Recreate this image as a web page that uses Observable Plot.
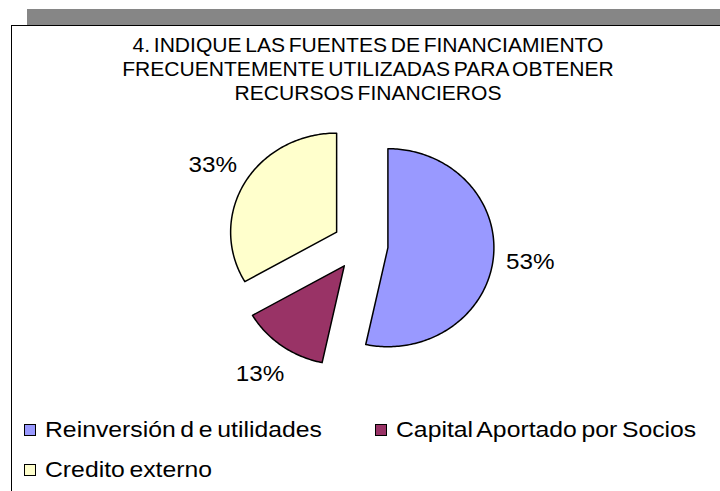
<!DOCTYPE html>
<html>
<head>
<meta charset="utf-8">
<script src="https://cdn.jsdelivr.net/npm/d3@7"></script>
<script src="https://cdn.jsdelivr.net/npm/@observablehq/plot@0.6"></script>
<style>
html,body{margin:0;padding:0;background:#fff;}
body{width:720px;height:491px;overflow:hidden;position:relative;font-family:"Liberation Sans",Arial,sans-serif;color:#000;}
#band{position:absolute;left:27px;top:9px;width:693px;height:16px;background:#868686;}
#frame{position:absolute;left:11px;top:25px;width:720px;height:480px;border-top:1px solid #000;border-left:1px solid #000;background:#fff;}
#chart{position:absolute;left:0;top:0;}
#title{position:absolute;left:0;width:736px;top:33px;text-align:center;font-size:19.5px;line-height:24px;word-spacing:-2px;transform:scaleX(1.08);transform-origin:368px 0;white-space:nowrap;}
.leg{position:absolute;display:flex;align-items:center;height:24px;font-size:22.5px;line-height:24px;word-spacing:-2px;white-space:nowrap;}
.sw{width:10px;height:10px;border:1px solid #000;margin-right:9px;flex:none;}
.lt{display:inline-block;transform:scaleX(1.1);transform-origin:0 50%;}
</style>
</head>
<body>
<div id="band"></div>
<div id="frame"></div>
<div id="chart"></div>
<div id="title"></div>
<div id="legend"></div>
<script>
// ---- data ----
const titleLines = [
  "4. INDIQUE LAS FUENTES DE FINANCIAMIENTO",
  "FRECUENTEMENTE UTILIZADAS PARA OBTENER",
  "RECURSOS FINANCIEROS"
];
const categories = ["Reinversión d e utilidades", "Capital Aportado por Socios", "Credito externo"];
const values = [53.3, 13.3, 33.3];
const colors = ["#9999FF", "#993366", "#FFFFCC"];

// ---- title ----
document.getElementById("title").innerHTML = titleLines.map(t => `<div>${t}</div>`).join("");

// ---- legend ----
const legendPos = [{left: 24, top: 418}, {left: 375, top: 418}, {left: 24, top: 458}];
document.getElementById("legend").innerHTML = categories.map((c, i) =>
  `<div class="leg" style="left:${legendPos[i].left}px;top:${legendPos[i].top}px"><span class="sw" style="background:${colors[i]}"></span><span class="lt">${c}</span></div>`
).join("");

// ---- pie geometry (unit radius, y up, angles clockwise from 12 o'clock) ----
const explode = 0.26;
const labelRadius = 1.61;
const total = d3.sum(values);
const rad = d => d * Math.PI / 180;
let acc = 0;
const slices = values.map((v, i) => {
  const a0 = acc / total * 360; acc += v; const a1 = acc / total * 360;
  return {i, a0, a1, mid: (a0 + a1) / 2, label: Math.round(v / total * 100) + "%"};
});
const polys = slices.map(s => {
  const ox = explode * Math.sin(rad(s.mid)), oy = explode * Math.cos(rad(s.mid));
  const pts = [{x: ox, y: oy}];
  const n = Math.max(2, Math.ceil(s.a1 - s.a0));
  for (let k = 0; k <= n; k++) {
    const a = s.a0 + (s.a1 - s.a0) * k / n;
    pts.push({x: ox + Math.sin(rad(a)), y: oy + Math.cos(rad(a))});
  }
  pts.push({x: ox, y: oy});
  return pts;
});

const W = 720, H = 491, cx = 360, cy = 244.5, rx = 106, ry = 99;
const chart = Plot.plot({
  width: W, height: H,
  margin: 0,
  x: {domain: [-cx / rx, (W - cx) / rx], range: [0, W], axis: null},
  y: {domain: [(cy - H) / ry, cy / ry], range: [H, 0], axis: null},
  style: {fontFamily: "'Liberation Sans', Arial, sans-serif", background: "transparent", overflow: "visible"},
  marks: [
    ...polys.map((p, i) => Plot.line(p, {x: "x", y: "y", fill: colors[i], stroke: "#000", strokeWidth: 1.5, curve: "linear"})),
    Plot.text(slices, {
      x: s => labelRadius * Math.sin(rad(s.mid)),
      y: s => labelRadius * Math.cos(rad(s.mid)),
      text: "label", fontSize: 22, fill: "#000", textAnchor: "middle"
    })
  ]
});
document.getElementById("chart").appendChild(chart);
chart.querySelectorAll("text").forEach(t => {
  const L = t.getComputedTextLength();
  t.setAttribute("textLength", (L * 1.1).toFixed(1));
  t.setAttribute("lengthAdjust", "spacingAndGlyphs");
});
</script>
</body>
</html>
